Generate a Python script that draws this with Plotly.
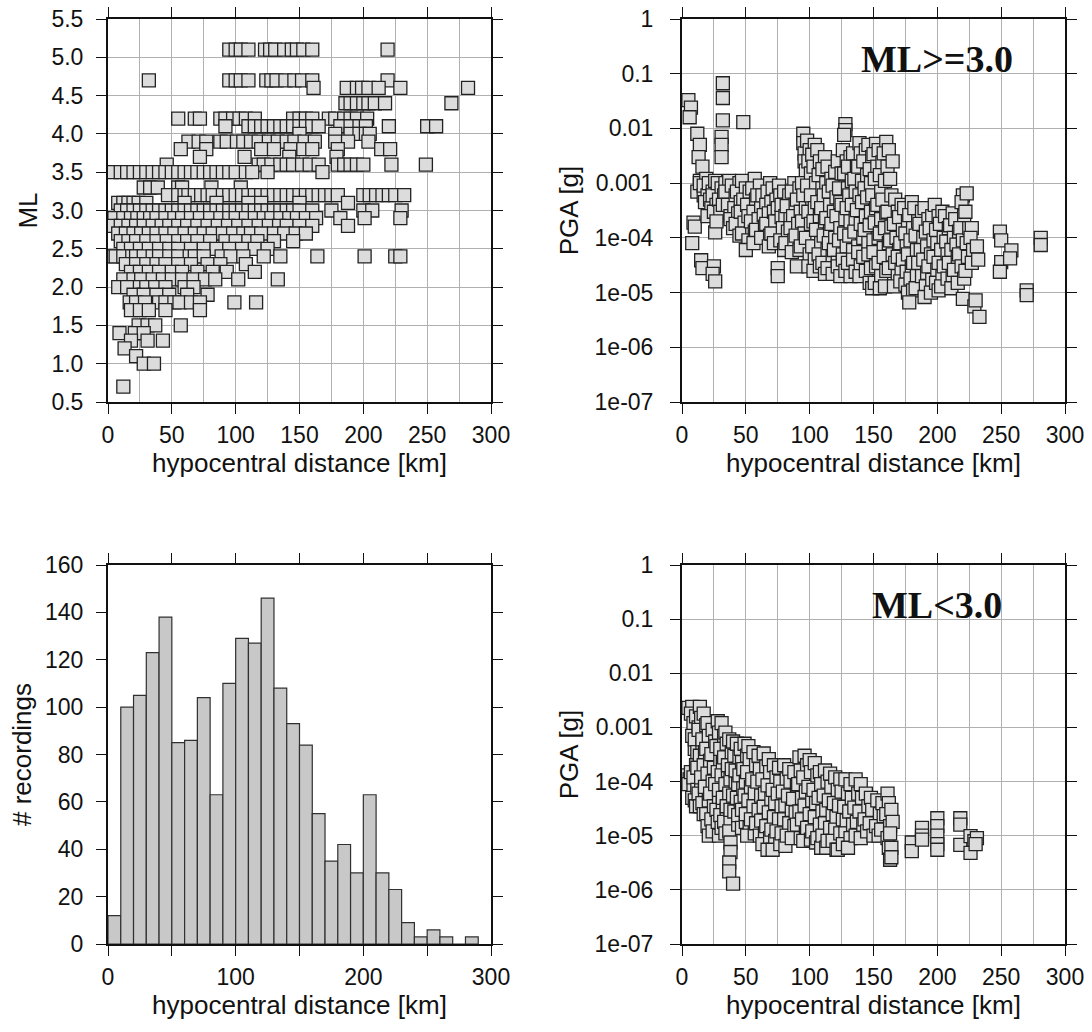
import plotly.graph_objects as go

# ---------------- Panel 1: ML vs hypocentral distance ----------------
ml_levels = [5.1, 4.7, 4.6, 4.4, 4.2, 4.1, 4.0, 3.9, 3.8, 3.7, 3.6, 3.5, 3.3, 3.2,
             3.1, 3.0, 2.9, 2.8, 2.7, 2.6, 2.5, 2.4, 2.3, 2.2, 2.1, 2.0, 1.9, 1.8,
             1.7, 1.5, 1.4, 1.3, 1.2, 1.1, 1.0, 0.7]
ml_dist = [
    [95, 100, 104, 110, 123, 127, 131, 138, 144, 148, 153, 160, 219],
    [32, 95, 100, 104, 110, 124, 128, 132, 139, 146, 152, 160, 219],
    [161, 187, 195, 199, 204, 212, 229, 282],
    [186, 190, 195, 200, 204, 209, 217, 269],
    [55, 68, 72, 88, 92, 98, 103, 108, 115, 145, 150, 155, 160, 173, 178, 185, 190, 195, 203],
    [92, 110, 115, 120, 125, 130, 135, 140, 145, 150, 155, 160, 165, 182, 190, 197, 202, 220, 250, 257],
    [150, 178, 190, 197, 202, 205],
    [63, 71, 77, 88, 93, 101, 106, 112, 118, 126, 133, 140, 146, 154, 162, 178, 188, 204],
    [57, 77, 120, 130, 143, 153, 160, 180, 214, 221],
    [72, 107, 142, 179],
    [46, 118, 122, 128, 135, 140, 145, 152, 158, 165, 180, 185, 190, 195, 200, 222, 249],
    [3, 10, 15, 20, 25, 30, 35, 40, 45, 50, 55, 60, 65, 70, 75, 80, 85, 90, 95, 100, 108, 113, 125, 168],
    [28, 33, 39, 55, 58, 81, 104],
    [47, 55, 60, 63, 68, 73, 78, 82, 90, 95, 100, 105, 110, 115, 120, 125, 130, 135, 140,
     145, 150, 155, 160, 165, 170, 175, 180, 200, 205, 210, 215, 220, 225, 232],
    [8, 12, 16, 20, 24, 30, 60, 85, 110, 120, 150, 188],
    [10, 15, 20, 25, 30, 35, 40, 45, 50, 55, 60, 65, 70, 75, 80, 85, 90, 95, 100, 105, 110,
     115, 120, 125, 130, 135, 140, 145, 150, 160, 175, 200, 207, 230],
    [5, 12, 18, 23, 28, 33, 38, 45, 52, 58, 65, 72, 80, 88, 95, 100, 108, 115, 122, 128, 135,
     142, 148, 155, 163, 182, 201, 229],
    [3, 10, 16, 22, 28, 35, 42, 48, 55, 62, 70, 78, 86, 94, 102, 110, 118, 126, 134, 140, 150, 160, 188],
    [8, 14, 20, 26, 32, 38, 45, 52, 60, 68, 75, 82, 90, 98, 106, 112, 120, 130, 138, 147, 155],
    [10, 16, 22, 30, 38, 46, 55, 62, 70, 80, 92, 100, 110, 117, 130, 145],
    [12, 18, 25, 32, 40, 48, 55, 65, 75, 85, 95, 105, 115, 125],
    [4, 6, 12, 19, 22, 28, 35, 40, 48, 55, 64, 68, 75, 89, 96, 106, 122, 135, 164, 201, 225, 229],
    [14, 22, 30, 38, 45, 55, 65, 78, 88, 108],
    [18, 25, 32, 40, 50, 58, 70, 82, 93, 115],
    [12, 20, 26, 35, 43, 50, 58, 67, 76, 84, 102, 133],
    [8, 15, 25, 30, 37, 45, 60, 67],
    [20, 28, 38, 48, 62, 78],
    [17, 22, 29, 40, 45, 52, 56, 65, 72, 99, 116],
    [18, 25, 32, 45, 72],
    [24, 31, 37, 57],
    [9, 21, 28],
    [18, 31, 43],
    [13],
    [22],
    [28, 36],
    [12],
]

# ---------------- Panel 2: PGA, ML >= 3.0 (grouped in distance stacks) ----------------
hi_km = [
    [5, 7, 6], [9, 10, 8], [12, 14, 13, 14, 12], [16, 14, 17, 15, 16], [19, 17, 20, 18],
    [21, 24, 22, 23, 20], [26, 24, 27, 25, 26, 25, 24, 26], [28, 31, 29, 30, 27],
    [32, 32, 32, 31, 31, 31, 34, 33, 32], [37, 34, 36, 38], [39, 42, 41, 38, 40],
    [45, 43, 46, 44, 42, 45], [48, 47, 50, 48, 46, 49, 47], [53, 51, 52, 55, 52, 50],
    [57, 55, 58, 56, 54, 57, 56], [61, 59, 62, 60, 58], [63, 66, 64, 65, 62],
    [69, 67, 70, 68, 66, 69, 68], [71, 74, 72, 73, 70, 72], [76, 77, 75, 78, 75, 75],
    [80, 78, 81, 79, 77, 80], [84, 82, 85, 83, 81], [88, 86, 89, 87, 85, 88, 86],
    [92, 90, 93, 91, 89, 92, 90],
    [95, 95, 96, 96, 97, 94, 95, 97, 94, 96, 93],
    [98, 100, 99, 101, 98, 102, 99, 101, 97, 100, 99],
    [104, 102, 103, 105, 101, 104, 103, 106, 102, 104, 103],
    [106, 108, 107, 110, 106, 108, 105, 109, 107, 108],
    [112, 110, 113, 111, 109, 112, 111, 114, 110, 112],
    [114, 117, 115, 116, 113, 116, 115, 118, 114],
    [120, 118, 121, 119, 117, 120, 119, 122, 118],
    [122, 125, 123, 124, 121, 124, 123, 126, 122, 124],
    [128, 128, 127, 126, 129, 127, 130, 125, 128, 127, 129, 126, 128],
    [132, 130, 133, 131, 129, 132, 131, 134, 130, 132],
    [134, 137, 135, 136, 133, 136, 135, 138, 134, 136],
    [139, 140, 138, 141, 139, 137, 140, 142, 138, 140, 139],
    [144, 142, 145, 143, 141, 144, 143, 146, 142, 144],
    [146, 149, 147, 148, 145, 148, 147, 150, 146, 148, 147, 149],
    [152, 150, 153, 151, 149, 152, 151, 154, 150, 152, 151],
    [154, 157, 155, 156, 153, 156, 155, 158, 154, 156, 155],
    [160, 158, 161, 159, 157, 160, 159, 162, 158, 160, 159],
    [162, 165, 163, 164, 161, 164, 163, 165, 162],
    [167, 169, 166, 168, 170, 167, 169, 166],
    [172, 170, 173, 171, 169, 172, 171],
    [174, 177, 175, 176, 173, 176, 175, 177],
    [180, 178, 181, 179, 177, 180, 179, 181, 178],
    [182, 185, 183, 184, 181, 184, 183],
    [188, 186, 189, 187, 185, 188],
    [190, 193, 191, 192, 189, 192, 191, 190],
    [196, 194, 197, 195, 193, 196, 195],
    [198, 201, 199, 200, 197, 200, 199, 201],
    [204, 202, 205, 203, 201, 204, 203],
    [206, 209, 207, 208, 205, 208],
    [212, 210, 213, 211, 209, 212, 211],
    [214, 217, 215, 216, 213, 216],
    [220, 219, 221, 218, 220, 217, 219, 221, 220],
    [223, 222, 225, 223, 224, 222],
    [227, 226, 228, 227, 229],
    [231, 232, 230, 233],
    [249, 250, 250, 249],
    [258, 257],
    [270, 270],
    [281, 281],
]
hi_pga = [
    [3.3e-2, 2.4e-2, 1.6e-2],
    [1.9e-4, 1.6e-4, 8e-5],
    [8e-3, 5e-3, 3e-3, 1.1e-3, 7e-4],
    [2e-3, 1e-3, 6e-4, 3.9e-5, 2.8e-5],
    [1.2e-3, 9e-4, 6e-4, 4.5e-4],
    [1e-3, 7e-4, 5e-4, 3.5e-4, 2.5e-4],
    [1.1e-3, 6e-4, 4e-4, 3e-4, 1.26e-4, 3e-5, 2.2e-5, 1.6e-5],
    [1e-3, 8e-4, 5e-4, 3e-4, 2e-4],
    [6.7e-2, 3.6e-2, 1.4e-2, 7e-3, 5e-3, 3e-3, 1e-3, 6e-4, 4e-4],
    [1.1e-3, 7e-4, 4e-4, 2.5e-4],
    [9e-4, 6e-4, 3.5e-4, 2.2e-4, 1.5e-4],
    [1e-3, 7e-4, 4.5e-4, 2.8e-4, 1.8e-4, 1.1e-4],
    [1.3e-2, 1.1e-3, 8e-4, 5e-4, 3e-4, 1.9e-4, 1.2e-4],
    [7e-4, 4e-4, 2.5e-4, 1.4e-4, 9e-5, 6e-5],
    [1.2e-3, 8e-4, 5e-4, 3e-4, 2e-4, 1.3e-4, 8e-5],
    [9e-4, 6e-4, 3.5e-4, 2.2e-4, 1.4e-4],
    [6e-4, 4e-4, 2.6e-4, 1.6e-4, 1e-4],
    [1e-3, 7e-4, 4.5e-4, 2.8e-4, 1.8e-4, 1.1e-4, 7e-5],
    [8e-4, 5e-4, 3e-4, 2e-4, 1.2e-4, 8e-5],
    [9e-4, 6e-4, 3.5e-4, 2.4e-4, 2.8e-5, 2e-5],
    [7e-4, 4e-4, 2.5e-4, 1.5e-4, 9e-5, 6e-5],
    [6e-4, 3.8e-4, 2.2e-4, 1.3e-4, 8e-5],
    [1e-3, 7e-4, 4e-4, 2.5e-4, 1.5e-4, 9e-5, 5.5e-5],
    [8e-4, 5e-4, 3e-4, 1.8e-4, 1.1e-4, 6e-5, 3e-5],
    [8e-3, 5.4e-3, 3.5e-3, 2.5e-3, 1.7e-3, 1e-3, 6e-4, 3.5e-4, 2e-4, 1.2e-4, 7e-5],
    [6e-3, 4e-3, 2.5e-3, 1.5e-3, 9e-4, 5e-4, 3e-4, 1.8e-4, 1e-4, 5e-5, 3e-5],
    [5e-3, 3.3e-3, 2e-3, 1e-3, 6e-4, 3.5e-4, 2e-4, 1.2e-4, 7e-5, 4e-5, 2.5e-5],
    [4e-3, 2.5e-3, 1.4e-3, 8e-4, 4.5e-4, 2.5e-4, 1.4e-4, 8e-5, 5e-5, 3e-5],
    [3e-3, 1.8e-3, 1e-3, 6e-4, 3.5e-4, 2e-4, 1.1e-4, 6e-5, 3.5e-5, 2.2e-5],
    [2e-3, 1.2e-3, 7e-4, 4e-4, 2.3e-4, 1.3e-4, 8e-5, 4.5e-5, 2.8e-5],
    [1.6e-3, 9e-4, 5.5e-4, 3e-4, 1.8e-4, 1e-4, 6e-5, 3.5e-5, 2.2e-5],
    [2.5e-3, 1.5e-3, 8e-4, 4.5e-4, 2.5e-4, 1.5e-4, 9e-5, 5e-5, 3e-5, 2e-5],
    [1.2e-2, 9.3e-3, 7.6e-3, 4e-3, 2.5e-3, 1.5e-3, 8e-4, 4e-4, 2.2e-4, 1.2e-4, 7e-5, 4e-5, 2.5e-5],
    [3e-3, 2e-3, 1.1e-3, 6e-4, 3.5e-4, 2e-4, 1.1e-4, 6e-5, 3.5e-5, 2e-5],
    [3.5e-3, 2e-3, 1.2e-3, 7e-4, 4e-4, 2.2e-4, 1.3e-4, 7e-5, 4e-5, 2.4e-5],
    [5.4e-3, 3.5e-3, 2e-3, 1.1e-3, 6e-4, 3.2e-4, 1.8e-4, 1e-4, 5.5e-5, 3e-5, 2e-5],
    [4e-3, 2.5e-3, 1.4e-3, 8e-4, 4.5e-4, 2.5e-4, 1.4e-4, 8e-5, 4.5e-5, 2.5e-5],
    [5e-3, 3e-3, 1.8e-3, 1e-3, 5.5e-4, 3e-4, 1.7e-4, 9e-5, 5e-5, 2.8e-5, 1.5e-5, 1.2e-5],
    [5.2e-3, 3.4e-3, 2e-3, 1.2e-3, 6e-4, 3.5e-4, 1.9e-4, 1e-4, 5.5e-5, 3e-5, 1.5e-5],
    [4e-3, 2.4e-3, 1.4e-3, 7e-4, 4e-4, 2.2e-4, 1.2e-4, 6.5e-5, 3.5e-5, 2e-5, 1.2e-5],
    [5.7e-3, 3.5e-3, 2e-3, 1.1e-3, 5e-4, 2.8e-4, 1.5e-4, 8e-5, 4.5e-5, 2.5e-5, 1.3e-5],
    [4e-3, 2.5e-3, 1.2e-3, 6e-4, 3e-4, 1.6e-4, 9e-5, 5e-5, 2.8e-5],
    [5e-4, 3e-4, 1.8e-4, 1e-4, 6e-5, 3.5e-5, 2e-5, 1.3e-5],
    [4e-4, 2.4e-4, 1.4e-4, 8e-5, 4.5e-5, 2.6e-5, 1.6e-5],
    [3.5e-4, 2e-4, 1.2e-4, 7e-5, 4e-5, 2.4e-5, 1.4e-5, 1e-5],
    [4.5e-4, 2.6e-4, 1.5e-4, 9e-5, 5e-5, 3e-5, 1.8e-5, 1.1e-5, 6.6e-6],
    [3.5e-4, 2e-4, 1.1e-4, 6e-5, 3.5e-5, 2e-5, 1.2e-5],
    [3e-4, 1.8e-4, 1e-4, 6e-5, 3.5e-5, 2e-5],
    [3.5e-4, 2.2e-4, 1.3e-4, 7e-5, 4e-5, 2.3e-5, 1.3e-5, 8.3e-6],
    [2.5e-4, 1.5e-4, 9e-5, 5e-5, 3e-5, 1.7e-5, 1e-5],
    [4e-4, 2.5e-4, 1.4e-4, 8e-5, 4.5e-5, 2.6e-5, 1.5e-5, 1.1e-5],
    [3e-4, 1.8e-4, 1e-4, 6e-5, 3.5e-5, 2e-5, 1.3e-5],
    [2.5e-4, 1.5e-4, 8.5e-5, 5e-5, 3e-5, 1.8e-5],
    [2.8e-4, 1.7e-4, 1e-4, 6e-5, 3.5e-5, 2e-5, 1.2e-5],
    [2.2e-4, 1.3e-4, 7.5e-5, 4.5e-5, 2.6e-5, 1.5e-5],
    [6e-4, 4.5e-4, 2.5e-4, 1.5e-4, 9e-5, 5e-5, 3e-5, 1.8e-5, 7.7e-6],
    [6.5e-4, 3e-4, 1.5e-4, 8e-5, 4.5e-5, 2.5e-5],
    [1.5e-4, 1e-4, 6e-5, 3.5e-5, 5.6e-6],
    [7e-5, 4e-5, 7.2e-6, 3.6e-6],
    [1.3e-4, 9e-5, 3.6e-5, 2.4e-5],
    [5.9e-5, 4.2e-5],
    [1.1e-5, 9e-6],
    [1e-4, 7.4e-5],
]

# ---------------- Panel 3: histogram of recordings ----------------
bin_left = [0, 10, 20, 30, 40, 50, 60, 70, 80, 90, 100, 110, 120, 130, 140, 150, 160,
            170, 180, 190, 200, 210, 220, 230, 240, 250, 260, 270, 280]
bin_count = [12, 100, 105, 123, 138, 85, 86, 104, 63, 110, 129, 127, 146, 108, 93, 84,
             55, 35, 42, 30, 63, 30, 23, 9, 3, 6, 3, 0, 3]

# ---------------- Panel 4: PGA, ML < 3.0 (grouped in distance stacks) ----------------
lo_km = [
    [5, 4, 6, 5], [8, 7, 9, 8, 10, 7, 9, 8], [11, 13, 10, 12, 11, 9, 12, 10, 11],
    [14, 15, 13, 16, 14, 12, 15, 13, 14], [17, 19, 16, 18, 17, 15, 18, 16, 17],
    [20, 21, 19, 22, 20, 18, 21, 19, 20, 21], [24, 26, 23, 25, 24, 22, 25, 23, 24],
    [28, 29, 27, 30, 28, 26, 29, 27, 28, 29], [31, 33, 30, 32, 31, 29, 32, 30, 31],
    [34, 35, 33, 36, 34, 32, 35, 33, 34], [37, 39, 36, 38, 37, 35, 38, 37, 38, 38, 37, 37],
    [40, 41, 39, 42, 40, 38, 40], [43, 45, 42, 44, 43, 41, 44], [46, 47, 45, 48, 46, 44, 47],
    [49, 51, 48, 50, 49, 47, 50], [52, 53, 51, 54, 52, 50, 53, 51], [56, 58, 55, 57, 56, 54, 57],
    [60, 61, 59, 62, 60, 58, 61], [64, 66, 63, 65, 64, 62, 65, 63], [68, 69, 67, 70, 68, 66, 69, 67],
    [72, 74, 71, 73, 72, 70, 73, 71], [76, 77, 75, 78, 76, 74, 77], [80, 82, 79, 81, 80, 78, 81],
    [84, 85, 83, 86, 84, 82], [88, 90, 87, 89, 88, 86], [92, 93, 91, 94, 92, 90, 93],
    [96, 98, 95, 97, 96, 94, 97, 95], [100, 101, 99, 102, 100, 98, 101],
    [104, 106, 103, 105, 104, 102, 105], [108, 109, 107, 110, 108, 106, 109],
    [112, 114, 111, 113, 112, 110, 113], [116, 117, 115, 118, 116, 114],
    [120, 122, 119, 121, 120, 118, 121], [124, 125, 123, 126, 124, 122],
    [128, 130, 127, 129, 128, 126], [132, 133, 131, 134, 132, 130], [136, 138, 135, 137, 136],
    [140, 141, 139, 142, 140], [144, 146, 143, 145], [148, 149, 147, 150], [153, 155, 152, 154],
    [157, 158, 156], [161, 162, 160, 163, 161, 162, 163], [164, 165, 163, 164, 164],
    [180, 180], [188, 188, 188], [200, 200, 200, 200, 200], [218, 218, 218], [226, 229, 226],
    [231, 230],
]
lo_pga = [
    [2.3e-3, 1.3e-4, 1.1e-4, 9e-5],
    [2.4e-3, 1.8e-3, 1.2e-3, 7e-4, 4e-4, 1.5e-4, 8e-5, 5e-5],
    [1.6e-3, 1e-3, 6e-4, 3.5e-4, 2e-4, 1.2e-4, 7e-5, 4.5e-5, 3.5e-5],
    [2.4e-3, 1.5e-3, 9e-4, 5e-4, 3e-4, 1.8e-4, 1e-4, 6e-5, 3.5e-5],
    [1.8e-3, 1.1e-3, 6e-4, 3.5e-4, 2e-4, 1.2e-4, 7e-5, 4e-5, 2.5e-5],
    [1.2e-3, 7e-4, 4e-4, 2.4e-4, 1.4e-4, 8e-5, 4.5e-5, 2.5e-5, 1.5e-5, 1e-5],
    [9e-4, 5.5e-4, 3.2e-4, 1.8e-4, 1e-4, 6e-5, 3.5e-5, 2e-5, 1.2e-5],
    [1.3e-3, 8e-4, 4.5e-4, 2.6e-4, 1.5e-4, 9e-5, 5e-5, 3e-5, 1.8e-5, 1e-5],
    [1.2e-3, 7e-4, 4e-4, 2.2e-4, 1.3e-4, 7e-5, 4e-5, 2.4e-5, 1.4e-5],
    [8e-4, 5e-4, 2.8e-4, 1.6e-4, 9e-5, 5e-5, 3e-5, 1.8e-5, 1.1e-5],
    [6e-4, 3.5e-4, 2e-4, 1.1e-4, 6e-5, 3.5e-5, 2e-5, 1.2e-5, 7.5e-6, 5e-6, 3.2e-6, 2.2e-6],
    [5.5e-4, 3e-4, 1.7e-4, 1e-4, 5.5e-5, 3e-5, 1.3e-6],
    [5e-4, 2.8e-4, 1.6e-4, 9e-5, 5e-5, 2.8e-5, 1.6e-5],
    [4e-4, 2.3e-4, 1.3e-4, 7.5e-5, 4.2e-5, 2.4e-5, 1.4e-5],
    [5e-4, 3e-4, 1.7e-4, 1e-4, 5.5e-5, 3e-5, 1.8e-5],
    [4.5e-4, 2.6e-4, 1.5e-4, 8e-5, 4.5e-5, 2.5e-5, 1.4e-5, 1e-5],
    [3.5e-4, 2e-4, 1.1e-4, 6e-5, 3.5e-5, 2e-5, 1.1e-5],
    [3e-4, 1.7e-4, 1e-4, 5.5e-5, 3e-5, 1.7e-5, 1e-5],
    [3.3e-4, 1.9e-4, 1.1e-4, 6e-5, 3.4e-5, 1.9e-5, 1.1e-5, 7e-6],
    [2.6e-4, 1.5e-4, 8.5e-5, 4.8e-5, 2.7e-5, 1.5e-5, 9e-6, 5.5e-6],
    [2e-4, 1.2e-4, 7e-5, 4e-5, 2.2e-5, 1.3e-5, 8e-6, 5.5e-6],
    [1.8e-4, 1e-4, 6e-5, 3.5e-5, 2e-5, 1.2e-5, 7e-6],
    [2e-4, 1.1e-4, 6.5e-5, 3.6e-5, 2e-5, 1.1e-5, 6.5e-6],
    [1.7e-4, 1e-4, 5.5e-5, 3e-5, 1.7e-5, 1e-5],
    [1.5e-4, 8.5e-5, 4.8e-5, 2.7e-5, 1.5e-5, 9e-6],
    [2.8e-4, 1.6e-4, 9e-5, 5e-5, 2.8e-5, 1.6e-5, 9e-6],
    [3e-4, 2e-4, 1.2e-4, 6.5e-5, 3.6e-5, 2e-5, 1.1e-5, 8e-6],
    [2.5e-4, 1.5e-4, 8e-5, 4.5e-5, 2.5e-5, 1.4e-5, 8.5e-6],
    [2.2e-4, 1.3e-4, 7e-5, 4e-5, 2.2e-5, 1.2e-5, 7.5e-6],
    [1.5e-4, 9e-5, 5e-5, 2.8e-5, 1.6e-5, 9e-6, 6e-6],
    [1.6e-4, 1e-4, 5.5e-5, 3e-5, 1.7e-5, 1e-5, 6e-6],
    [1.4e-4, 8e-5, 4.5e-5, 2.5e-5, 1.4e-5, 8e-6],
    [1.2e-4, 7e-5, 4e-5, 2.2e-5, 1.3e-5, 8e-6, 5.5e-6],
    [1.1e-4, 6.5e-5, 3.6e-5, 2e-5, 1.1e-5, 5.5e-6],
    [1.1e-4, 6e-5, 3.4e-5, 1.9e-5, 1.1e-5, 7e-6],
    [9e-5, 5e-5, 2.8e-5, 1.6e-5, 9e-6, 6e-6],
    [1.1e-4, 6e-5, 3.3e-5, 1.8e-5, 1e-5],
    [9e-5, 5e-5, 2.8e-5, 1.6e-5, 9e-6],
    [6e-5, 3.5e-5, 2e-5, 1.2e-5],
    [5e-5, 3e-5, 1.7e-5, 1e-5],
    [4.5e-5, 2.5e-5, 1.5e-5, 1e-5],
    [4e-5, 2.3e-5, 1.3e-5],
    [6e-5, 4e-5, 2.5e-5, 1.5e-5, 9e-6, 6e-6, 3.6e-6],
    [3e-5, 1.8e-5, 1.1e-5, 6e-6, 4e-6],
    [7.5e-6, 5.2e-6],
    [1.4e-5, 1e-5, 8.5e-6],
    [2.1e-5, 1.5e-5, 1e-5, 7e-6, 5.5e-6],
    [2.1e-5, 1.6e-5, 6.8e-6],
    [9.8e-6, 7.9e-6, 4.8e-6],
    [9e-6, 7e-6],
]

pga_tickvals = [1e-7, 1e-6, 1e-5, 1e-4, 1e-3, 1e-2, 1e-1, 1]
pga_ticktext = ["1e-07", "1e-06", "1e-05", "1e-04", "0.001", "0.01", "0.1", "1"]
ml_tickvals = [0.5, 1.0, 1.5, 2.0, 2.5, 3.0, 3.5, 4.0, 4.5, 5.0, 5.5]
hist_tickvals = [0, 20, 40, 60, 80, 100, 120, 140, 160]
dist_tickvals = [0, 50, 100, 150, 200, 250, 300]


def flatten(xgroups, ygroups):
    ox, oy = [], []
    for xs, ys in zip(xgroups, ygroups):
        for x, y in zip(xs, ys):
            ox.append(x)
            oy.append(y)
    return ox, oy


def flatten_rows(levels, rows):
    ox, oy = [], []
    for lev, r in zip(levels, rows):
        for d in r:
            ox.append(d)
            oy.append(lev)
    return ox, oy


FONT = "Liberation Sans, Arial, sans-serif"
TICKF = dict(family=FONT, size=23, color="#111")
TITLEF = dict(family=FONT, size=26, color="#111")
GRID = "#b0b0b0"

marker = dict(symbol="square", size=13, color="#dcdcdc",
              line=dict(color="#222222", width=1.3))

fig = go.Figure()

x1, y1 = flatten_rows(ml_levels, ml_dist)
fig.add_trace(go.Scatter(x=x1, y=y1, mode="markers", marker=marker,
                         xaxis="x", yaxis="y", showlegend=False))

x2, y2 = flatten(hi_km, hi_pga)
fig.add_trace(go.Scatter(x=x2, y=y2, mode="markers", marker=marker,
                         xaxis="x2", yaxis="y2", showlegend=False))

fig.add_trace(go.Bar(x=[b + 5 for b in bin_left], y=bin_count, width=10,
                     marker=dict(color="#c8c8c8", line=dict(color="#303030", width=1.2)),
                     xaxis="x3", yaxis="y3", showlegend=False))

x4, y4 = flatten(lo_km, lo_pga)
fig.add_trace(go.Scatter(x=x4, y=y4, mode="markers", marker=marker,
                         xaxis="x4", yaxis="y4", showlegend=False))

W, H = 1092, 1032
dx_left = [108 / W, 491 / W]
dx_right = [682 / W, 1065 / W]
dy_top = [1 - 402 / H, 1 - 19 / H]
dy_bot = [1 - 944 / H, 1 - 565 / H]

common = dict(showline=True, linewidth=2, linecolor="#111", mirror="ticks",
              ticks="outside", ticklen=10, tickwidth=1.2, tickcolor="#111",
              tickfont=TICKF, zeroline=False, automargin=False)


def dist_axis(domain, anchor, grid=True, labels_every_50=True):
    ax = dict(common)
    ax.update(domain=domain, anchor=anchor, range=[0, 300],
              tickvals=dist_tickvals, ticklabelstandoff=1,
              title=dict(text="hypocentral distance [km]", font=TITLEF, standoff=6))
    if labels_every_50:
        ax["ticktext"] = [str(v) for v in dist_tickvals]
    else:
        ax["ticktext"] = [str(v) if v % 100 == 0 else "" for v in dist_tickvals]
    if grid:
        ax.update(showgrid=True, gridcolor=GRID, gridwidth=1,
                  minor=dict(dtick=25, tick0=0, showgrid=True, gridcolor=GRID,
                             gridwidth=1, ticks=""))
    else:
        ax["showgrid"] = False
    return ax


fig.update_layout(
    width=W, height=H,
    margin=dict(l=0, r=0, t=0, b=0),
    paper_bgcolor="white", plot_bgcolor="white",
    xaxis=dist_axis(dx_left, "y"),
    yaxis=dict(common, domain=dy_top, anchor="x", range=[0.5, 5.5],
               tickvals=ml_tickvals, ticktext=[f"{v:.1f}" for v in ml_tickvals],
               showgrid=True, gridcolor=GRID, ticklabelstandoff=8,
               title=dict(text="ML", font=TITLEF, standoff=6)),
    xaxis2=dist_axis(dx_right, "y2"),
    yaxis2=dict(common, domain=dy_top, anchor="x2", type="log", range=[-7, 0],
                tickvals=pga_tickvals, ticktext=pga_ticktext,
                showgrid=True, gridcolor=GRID, ticklabelstandoff=12,
                title=dict(text="PGA [g]", font=TITLEF, standoff=8)),
    xaxis3=dist_axis(dx_left, "y3", grid=False, labels_every_50=False),
    yaxis3=dict(common, domain=dy_bot, anchor="x3", range=[0, 160],
                tickvals=hist_tickvals, showgrid=False, ticklabelstandoff=8,
                title=dict(text="# recordings", font=TITLEF, standoff=6)),
    xaxis4=dist_axis(dx_right, "y4"),
    yaxis4=dict(common, domain=dy_bot, anchor="x4", type="log", range=[-7, 0],
                tickvals=pga_tickvals, ticktext=pga_ticktext,
                showgrid=True, gridcolor=GRID, ticklabelstandoff=12,
                title=dict(text="PGA [g]", font=TITLEF, standoff=8)),
    annotations=[
        dict(text="<b>ML>=3.0</b>", x=937 / W, y=1 - 59 / H, xref="paper", yref="paper",
             showarrow=False, xanchor="center", yanchor="middle",
             font=dict(family="Liberation Serif, Times New Roman, serif", size=38, color="#111")),
        dict(text="<b>ML<3.0</b>", x=937 / W, y=1 - 605 / H, xref="paper", yref="paper",
             showarrow=False, xanchor="center", yanchor="middle",
             font=dict(family="Liberation Serif, Times New Roman, serif", size=38, color="#111")),
    ],
)

fig.write_html("out.html")
